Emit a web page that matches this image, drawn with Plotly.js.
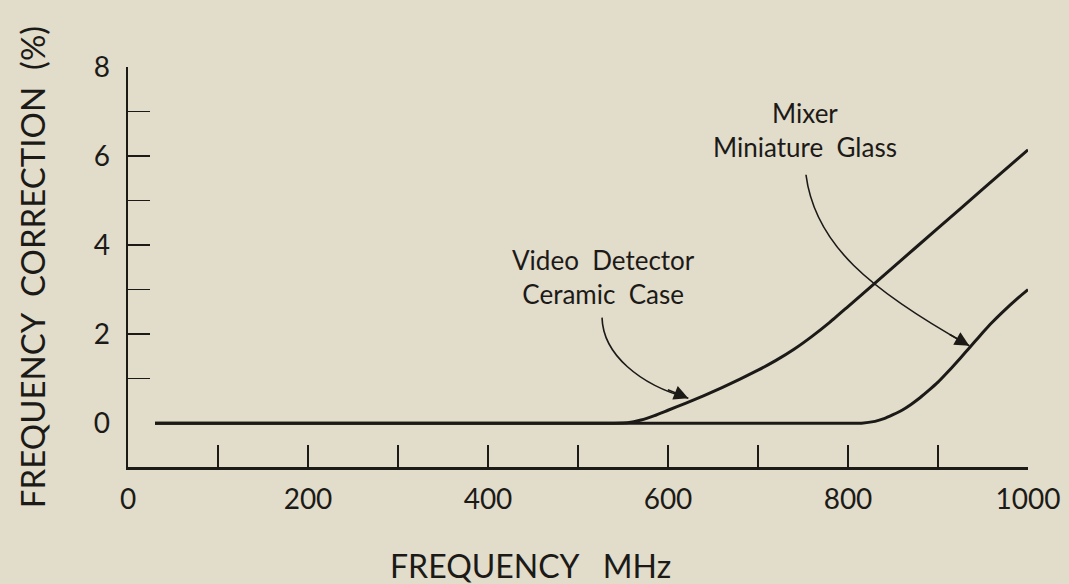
<!DOCTYPE html>
<html>
<head>
<meta charset="utf-8">
<script src="https://cdn.plot.ly/plotly-3.0.1.min.js"></script>
<style>
  html, body { margin: 0; padding: 0; background: #e2dccb; }
  #chart { width: 1069px; height: 584px; }
</style>
</head>
<body>
<div id="chart"></div>
<script>
// ---- Data ----
const videoFreq = [30, 100, 200, 300, 400, 500, 540, 555, 570, 585, 600, 620, 640, 660, 680, 700, 720, 740, 760, 780, 800, 850, 900, 950, 1000];
const videoCorr = [0, 0, 0, 0, 0, 0, 0, 0.01, 0.07, 0.17, 0.29, 0.45, 0.62, 0.8, 0.99, 1.19, 1.41, 1.66, 1.95, 2.27, 2.62, 3.5, 4.38, 5.26, 6.14];

const mixerFreq = [30, 100, 200, 300, 400, 500, 600, 700, 800, 815, 830, 840, 850, 860, 870, 880, 890, 900, 910, 920, 930, 940, 950, 960, 970, 980, 990, 1000];
const mixerCorr = [0, 0, 0, 0, 0, 0, 0, 0, 0, 0, 0.04, 0.1, 0.19, 0.29, 0.42, 0.57, 0.74, 0.92, 1.13, 1.35, 1.58, 1.81, 2.04, 2.26, 2.46, 2.65, 2.83, 3.0];

const xTickVals = [0, 100, 200, 300, 400, 500, 600, 700, 800, 900, 1000];
const xTickText = ['0', '', '200', '', '400', '', '600', '', '800', '', '1000'];
const yLabelVals = [0, 2, 4, 6, 8];
const yLabelText = ['0', '2', '4', '6', '8'];
const yTickVals = [1, 2, 3, 4, 5, 6, 7, 8];

const xTitle = 'FREQUENCY   MHz';
const yTitle = 'FREQUENCY  CORRECTION  (%)';
const videoLabel = 'Video  Detector<br>Ceramic  Case';
const mixerLabel = 'Mixer<br>Miniature  Glass';

// annotation anchor points (data units)
const videoLabelPos = [527.8, 3.29];
const mixerLabelPos = [752, 6.58];
const videoArrow = [[526.7, 2.37], [527.8, 1.54], [568.9, 0.86], [622.6, 0.56]];
const mixerArrow = [[753.3, 5.58], [763.3, 4.01], [824.4, 2.995], [934.8, 1.74]];

// ---- Styling ----
const ink = '#1c1a17';
const bg = '#e2dccb';
const fontFam = 'Lato, "DejaVu Sans", sans-serif';
const yRange = [-0.985, 8];
const xRange = [0, 1000];

function cubicPath(p) {
  return 'M ' + p[0][0] + ',' + p[0][1] +
         ' C ' + p[1][0] + ',' + p[1][1] + ' ' + p[2][0] + ',' + p[2][1] + ' ' + p[3][0] + ',' + p[3][1];
}

const traces = [
  {
    x: videoFreq, y: videoCorr, type: 'scatter', mode: 'lines',
    name: 'Video Detector Ceramic Case',
    line: { color: ink, width: 3, shape: 'spline', smoothing: 0.4 },
    hoverinfo: 'x+y'
  },
  {
    x: mixerFreq, y: mixerCorr, type: 'scatter', mode: 'lines', yaxis: 'y2',
    name: 'Mixer Miniature Glass',
    line: { color: ink, width: 3, shape: 'spline', smoothing: 0.4 },
    hoverinfo: 'x+y'
  }
];

const layout = {
  width: 1069, height: 584,
  margin: { l: 128, r: 41, t: 67, b: 117 },
  paper_bgcolor: bg, plot_bgcolor: bg,
  showlegend: false,
  font: { family: fontFam, color: ink, size: 28 },
  xaxis: {
    range: xRange, showgrid: false, zeroline: false,
    showline: true, linecolor: ink, linewidth: 2.5,
    tickmode: 'array', tickvals: xTickVals, ticktext: xTickText,
    ticks: 'inside', ticklen: 22, tickwidth: 1.5, tickcolor: ink,
    tickfont: { size: 28, family: fontFam, color: ink },
    ticklabelstandoff: 6
  },
  yaxis: {
    range: yRange, showgrid: false, zeroline: false,
    showline: true, linecolor: ink, linewidth: 2.5,
    tickmode: 'array', tickvals: yLabelVals, ticktext: yLabelText,
    ticks: '', tickfont: { size: 28, family: fontFam, color: ink },
    ticklabelstandoff: 10,
    title: { text: yTitle, font: { size: 33, family: fontFam, color: ink }, standoff: 38 }
  },
  yaxis2: {
    range: yRange, overlaying: 'y', side: 'left', anchor: 'x',
    showgrid: false, zeroline: false, showline: false,
    tickmode: 'array', tickvals: yTickVals, showticklabels: false,
    ticks: 'inside', ticklen: 22, tickwidth: 1.5, tickcolor: ink
  },
  shapes: [
    { type: 'path', xref: 'x', yref: 'y', path: cubicPath(videoArrow), line: { color: ink, width: 1.6 } },
    { type: 'path', xref: 'x', yref: 'y', path: cubicPath(mixerArrow), line: { color: ink, width: 1.6 } }
  ],
  annotations: [
    {
      x: videoLabelPos[0], y: videoLabelPos[1], xref: 'x', yref: 'y', text: videoLabel,
      showarrow: false, xanchor: 'center', yanchor: 'middle', align: 'center',
      font: { size: 26, family: fontFam, color: ink }
    },
    {
      x: mixerLabelPos[0], y: mixerLabelPos[1], xref: 'x', yref: 'y', text: mixerLabel,
      showarrow: false, xanchor: 'center', yanchor: 'middle', align: 'center',
      font: { size: 26, family: fontFam, color: ink }
    },
    {
      x: videoArrow[3][0], y: videoArrow[3][1], xref: 'x', yref: 'y', text: '',
      showarrow: true, arrowhead: 2, arrowsize: 1.8, arrowwidth: 1.6, arrowcolor: ink,
      ax: -22, ay: -9
    },
    {
      x: mixerArrow[3][0], y: mixerArrow[3][1], xref: 'x', yref: 'y', text: '',
      showarrow: true, arrowhead: 2, arrowsize: 1.8, arrowwidth: 1.6, arrowcolor: ink,
      ax: -21, ay: -12
    },
    {
      x: 0.447, y: -0.245, xref: 'paper', yref: 'paper', text: xTitle,
      showarrow: false, xanchor: 'center', yanchor: 'middle',
      font: { size: 32, family: fontFam, color: ink }
    }
  ]
};

Plotly.newPlot('chart', traces, layout, { staticPlot: true, displayModeBar: false });
</script>
</body>
</html>
